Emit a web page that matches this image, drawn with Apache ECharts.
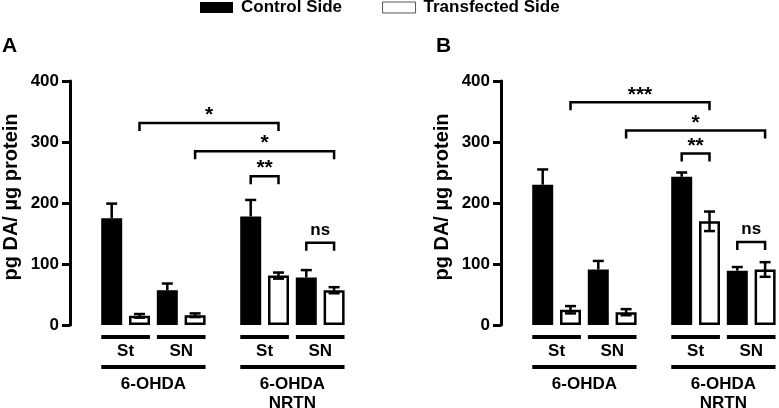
<!DOCTYPE html>
<html>
<head>
<meta charset="utf-8">
<title>DA levels</title>
<script src="https://cdn.jsdelivr.net/npm/echarts@6/dist/echarts.min.js"></script>
<style>
  html, body { margin: 0; padding: 0; background: #fff; }
  #chart { width: 779px; height: 408px; }
</style>
</head>
<body>
<div id="chart"></div>
<script>
// slot 0 and 5 are empty spacers on the category axis
var slots = ['', 'St ctrl', 'St trans', 'SN ctrl', 'SN trans', '', 'St ctrl', 'St trans', 'SN ctrl', 'SN trans'];
var ctrlSlots = [1, 3, 6, 8];
var transSlots = [2, 4, 7, 9];

// panel A
var ctrlA = [175, 57, 178, 78];
var ctrlErrA = [24, 11, 27, 12];
var transA = [15, 16, 81, 57];
var transErrA = [3, 3, 5, 5];
// panel B
var ctrlB = [230, 91, 243, 89];
var ctrlErrB = [25, 14, 7, 6];
var transB = [25, 21, 170, 91];
var transErrB = [6, 5, 16, 12];

// significance brackets
var brFrom = [2, 4, 6, 8];
var brTo = [7, 9, 7, 9];
var brYA = [331, 285, 244, 135];
var brTextA = ['*', '*', '**', 'ns'];
var brYB = [365, 319, 281, 136];
var brTextB = ['***', '*', '**', 'ns'];

// labels under the bars
var subFrom = [1, 3, 6, 8];
var subTo = [2, 4, 7, 9];
var subText = ['St', 'SN', 'St', 'SN'];
var grpFrom = [1, 6];
var grpTo = [4, 9];
var grpText = ['6-OHDA', '6-OHDA\nNRTN'];

var FONT = 'Liberation Sans, Arial, sans-serif';

var chart = echarts.init(document.getElementById('chart'));

var toBars = function (vals, idx) {
	var d = slots.map(function () { return '-'; });
	idx.forEach(function (s, i) { d[s] = vals[i]; });
	return d;
};

var errSeries = function (k, ctrl, ctrlErr, trans, transErr) {
	var data = [];
	ctrlSlots.forEach(function (s, i) { data.push([s, ctrl[i], ctrlErr[i], 0]); });
	transSlots.forEach(function (s, i) { data.push([s, trans[i], transErr[i], 1]); });
	return {
		type: 'custom', xAxisIndex: k, yAxisIndex: k, z: 5, silent: true,
		encode: { x: 0, y: 1 },
		data: data,
		renderItem: function (params, api) {
			var x = api.value(0), m = api.value(1), e = api.value(2), both = api.value(3);
			var top = api.coord([x, m + e]);
			var low = api.coord([x, both ? m - e : m]);
			var hw = 5.5;
			var st = { stroke: '#000', lineWidth: 2.5 };
			var ch = [
				{ type: 'line', shape: { x1: top[0], y1: top[1], x2: low[0], y2: low[1] }, style: st },
				{ type: 'line', shape: { x1: top[0] - hw, y1: top[1], x2: top[0] + hw, y2: top[1] }, style: st }
			];
			if (both) {
				ch.push({ type: 'line', shape: { x1: low[0] - hw, y1: low[1], x2: low[0] + hw, y2: low[1] }, style: st });
			}
			return { type: 'group', children: ch };
		}
	};
};

var bracketSeries = function (k, ys, texts) {
	return {
		type: 'custom', xAxisIndex: k, yAxisIndex: k, z: 6, silent: true,
		encode: { x: [0, 1], y: 2 },
		data: brFrom.map(function (f, i) { return [f, brTo[i], ys[i]]; }),
		renderItem: function (params, api) {
			var p1 = api.coord([api.value(0), api.value(2)]);
			var p2 = api.coord([api.value(1), api.value(2)]);
			var t = texts[params.dataIndex];
			var isNs = t === 'ns';
			return {
				type: 'group',
				children: [
					{ type: 'polyline', shape: { points: [[p1[0], p1[1] + 8], [p1[0], p1[1]], [p2[0], p2[1]], [p2[0], p2[1] + 8]] },
					  style: { stroke: '#000', lineWidth: 2.5, fill: null } },
					{ type: 'text', x: (p1[0] + p2[0]) / 2, y: p1[1] + (isNs ? -4 : 3),
					  style: { text: t, fill: '#000', align: 'center', verticalAlign: 'bottom',
					           font: 'bold ' + (isNs ? 17 : 21) + 'px ' + FONT } }
				]
			};
		}
	};
};

var labelSeries = function (k) {
	var data = [];
	subFrom.forEach(function (f, i) { data.push([f, subTo[i], 0, i]); });
	grpFrom.forEach(function (f, i) { data.push([f, grpTo[i], 1, i]); });
	return {
		type: 'custom', xAxisIndex: k, yAxisIndex: k, silent: true,
		encode: { x: [0, 1], y: 2 },
		data: data,
		renderItem: function (params, api) {
			var a = api.coord([api.value(0), 0]);
			var b = api.coord([api.value(1), 0]);
			var lvl = api.value(2);
			var bw = api.size([1, 0])[0] * 0.75;
			var y = a[1] + (lvl ? 42 : 12);
			var t = lvl ? grpText[api.value(3)] : subText[api.value(3)];
			return {
				type: 'group',
				children: [
					{ type: 'line', shape: { x1: a[0] - bw / 2, y1: y, x2: b[0] + bw / 2, y2: y },
					  style: { stroke: '#000', lineWidth: 4 } },
					{ type: 'text', x: (a[0] + b[0]) / 2, y: y + (lvl ? 8 : 5),
					  style: { text: t, fill: '#000', align: 'center', verticalAlign: 'top',
					           lineHeight: 19, font: 'bold 17px ' + FONT } }
				]
			};
		}
	};
};

var yAxis = function (k) {
	return {
		gridIndex: k, type: 'value', min: 0, max: 400, interval: 100,
		name: 'pg DA/ µg protein', nameLocation: 'middle', nameGap: 49, nameRotate: 90,
		nameTextStyle: { color: '#000', fontWeight: 'bold', fontSize: 20, fontFamily: FONT, padding: [0, 0, 0, 12] },
		axisLine: { show: true, lineStyle: { color: '#000', width: 3 } },
		axisTick: { show: true, length: 8, lineStyle: { color: '#000', width: 3 } },
		axisLabel: { color: '#000', fontWeight: 'bold', fontSize: 17, fontFamily: FONT, margin: 11 },
		splitLine: { show: false }
	};
};

var xAxis = function (k) {
	return {
		gridIndex: k, type: 'category', data: slots,
		axisLine: { show: false }, axisTick: { show: false }, axisLabel: { show: false }
	};
};

var barCtrl = function (k, vals) {
	return {
		name: 'Control Side', type: 'bar', xAxisIndex: k, yAxisIndex: k,
		barWidth: 21, barGap: '-100%', data: toBars(vals, ctrlSlots),
		itemStyle: { color: '#000' }
	};
};

var barTrans = function (k, vals) {
	return {
		name: 'Transfected Side', type: 'bar', xAxisIndex: k, yAxisIndex: k,
		barWidth: 21, barGap: '-100%', data: toBars(vals, transSlots),
		itemStyle: { color: '#fff', borderColor: '#000', borderWidth: 2.5 }
	};
};

var option = {
	animation: false,
	backgroundColor: '#fff',
	title: [
		{ text: 'A', left: 2, top: 36, padding: 0, textStyle: { fontSize: 21, fontWeight: 'bold', color: '#000', fontFamily: FONT } },
		{ text: 'B', left: 436, top: 36, padding: 0, textStyle: { fontSize: 21, fontWeight: 'bold', color: '#000', fontFamily: FONT } }
	],
	legend: {
		top: -1, left: 200, padding: 0, itemWidth: 33, itemHeight: 11, itemGap: 40, icon: 'rect',
		textStyle: { color: '#000', fontWeight: 'bold', fontSize: 17, fontFamily: FONT, padding: [0, 0, 0, 3] },
		data: [
			{ name: 'Control Side' },
			{ name: 'Transfected Side', itemStyle: { color: '#fff', borderColor: '#555', borderWidth: 1 } }
		]
	},
	grid: [
		{ left: 68, top: 81, width: 280, height: 244 },
		{ left: 501, top: 81, width: 280, height: 244 }
	],
	xAxis: [xAxis(0), xAxis(1)],
	yAxis: [yAxis(0), yAxis(1)],
	series: [
		barCtrl(0, ctrlA), barTrans(0, transA),
		barCtrl(1, ctrlB), barTrans(1, transB),
		errSeries(0, ctrlA, ctrlErrA, transA, transErrA),
		errSeries(1, ctrlB, ctrlErrB, transB, transErrB),
		bracketSeries(0, brYA, brTextA),
		bracketSeries(1, brYB, brTextB),
		labelSeries(0),
		labelSeries(1)
	]
};

chart.setOption(option);
</script>
</body>
</html>
